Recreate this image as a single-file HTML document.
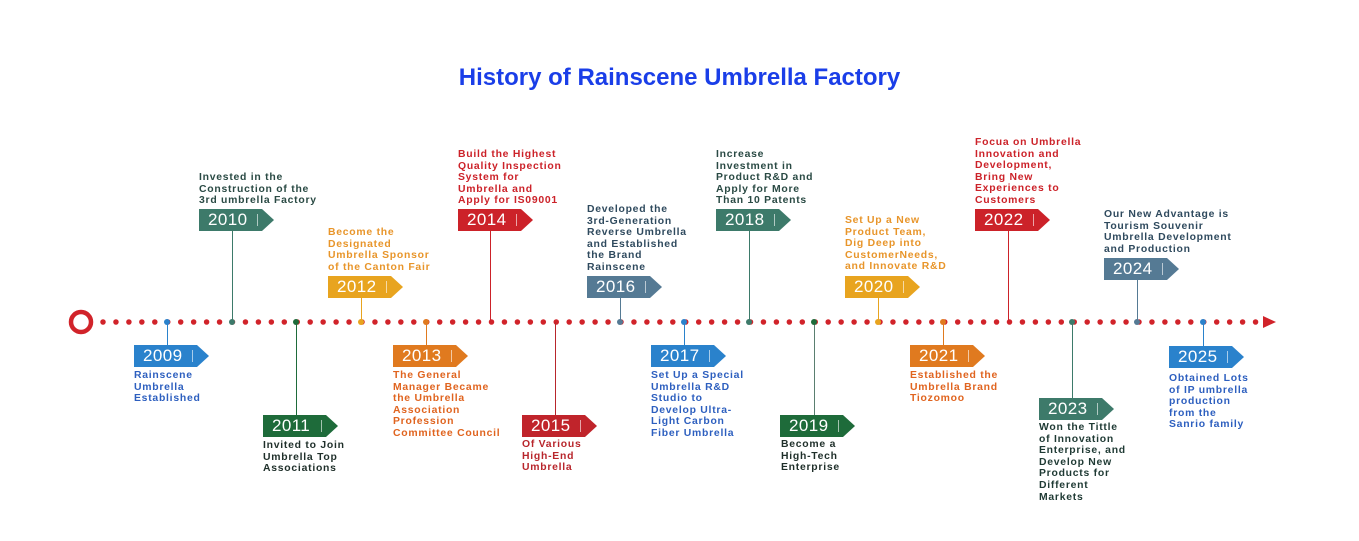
<!DOCTYPE html>
<html><head><meta charset="utf-8"><style>
*{margin:0;padding:0;box-sizing:border-box}
body{width:1359px;height:541px;background:#fff;position:relative;overflow:hidden;font-family:"Liberation Sans",sans-serif}
.title{position:absolute;left:0;width:1359px;top:64px;text-align:center;font-size:24px;font-weight:bold;color:#1a3ee8}
.tag{position:absolute;width:75px;height:22px;clip-path:polygon(0 0,63px 0,75px 50%,63px 100%,0 100%);color:#fff;font-size:17px;line-height:22px;padding-left:9px;letter-spacing:.4px}
.tag:after{content:"";position:absolute;left:58px;top:5px;width:1px;height:12px;background:rgba(255,255,255,.6)}
.t{position:absolute;font-size:10.4px;font-weight:bold;line-height:11.6px;white-space:nowrap;letter-spacing:.75px}
.v{position:absolute;width:1.3px}
.d{position:absolute;width:6px;height:6px;border-radius:50%;top:319px}
</style></head><body>
<div class="title">History of Rainscene Umbrella Factory</div>
<svg style="position:absolute;left:0;top:0" width="1359" height="541">
<circle cx="81" cy="322" r="10" fill="none" stroke="#d1232a" stroke-width="4.5"/>
<line x1="103" y1="322" x2="1262" y2="322" stroke="#d1232a" stroke-width="5.5" stroke-linecap="round" stroke-dasharray="0 12.95"/>
<polygon points="1263,316 1276,322 1263,328" fill="#d1232a"/>
</svg>
<div class="v" style="left:167px;top:322px;height:24px;background:#2a82cc"></div><div class="d" style="left:164px;background:#2a82cc"></div>
<div class="v" style="left:232px;top:230px;height:92px;background:#3d7a6a"></div><div class="d" style="left:229px;background:#3d7a6a"></div>
<div class="v" style="left:296px;top:322px;height:94px;background:#1e6b3a"></div><div class="d" style="left:293px;background:#1e6b3a"></div>
<div class="v" style="left:361px;top:297px;height:25px;background:#e8a41f"></div><div class="d" style="left:358px;background:#e8a41f"></div>
<div class="v" style="left:426px;top:322px;height:24px;background:#e07a1f"></div><div class="d" style="left:423px;background:#e07a1f"></div>
<div class="v" style="left:490px;top:230px;height:92px;background:#cc2229"></div>
<div class="v" style="left:555px;top:322px;height:94px;background:#b8262c"></div>
<div class="v" style="left:620px;top:297px;height:25px;background:#557a94"></div><div class="d" style="left:617px;background:#557a94"></div>
<div class="v" style="left:684px;top:322px;height:24px;background:#2a82cc"></div><div class="d" style="left:681px;background:#2a82cc"></div>
<div class="v" style="left:749px;top:230px;height:92px;background:#3d7a6a"></div><div class="d" style="left:746px;background:#3d7a6a"></div>
<div class="v" style="left:814px;top:322px;height:94px;background:#5a7f70"></div><div class="d" style="left:811px;background:#1e6b3a"></div>
<div class="v" style="left:878px;top:297px;height:25px;background:#e8a41f"></div><div class="d" style="left:875px;background:#e8a41f"></div>
<div class="v" style="left:943px;top:322px;height:24px;background:#e07a1f"></div><div class="d" style="left:940px;background:#e07a1f"></div>
<div class="v" style="left:1008px;top:230px;height:92px;background:#cc2229"></div>
<div class="v" style="left:1072px;top:322px;height:77px;background:#3d7a6a"></div><div class="d" style="left:1069px;background:#3d7a6a"></div>
<div class="v" style="left:1137px;top:279px;height:43px;background:#557a94"></div><div class="d" style="left:1134px;background:#557a94"></div>
<div class="v" style="left:1203px;top:322px;height:25px;background:#2a82cc"></div><div class="d" style="left:1200px;background:#2a82cc"></div>
<div class="tag" style="left:134px;top:345px;background:#2a82cc">2009</div>
<div class="tag" style="left:199px;top:209px;background:#3d7a6a">2010</div>
<div class="tag" style="left:263px;top:415px;background:#1e6b3a">2011</div>
<div class="tag" style="left:328px;top:276px;background:#e8a41f">2012</div>
<div class="tag" style="left:393px;top:345px;background:#e07a1f">2013</div>
<div class="tag" style="left:458px;top:209px;background:#cc2229">2014</div>
<div class="tag" style="left:522px;top:415px;background:#c0242b">2015</div>
<div class="tag" style="left:587px;top:276px;background:#557a94">2016</div>
<div class="tag" style="left:651px;top:345px;background:#2a82cc">2017</div>
<div class="tag" style="left:716px;top:209px;background:#3d7a6a">2018</div>
<div class="tag" style="left:780px;top:415px;background:#1e6b3a">2019</div>
<div class="tag" style="left:845px;top:276px;background:#e8a41f">2020</div>
<div class="tag" style="left:910px;top:345px;background:#e07a1f">2021</div>
<div class="tag" style="left:975px;top:209px;background:#cc2229">2022</div>
<div class="tag" style="left:1039px;top:398px;background:#3d7a6a">2023</div>
<div class="tag" style="left:1104px;top:258px;background:#557a94">2024</div>
<div class="tag" style="left:1169px;top:346px;background:#2a82cc">2025</div>
<div class="t" style="left:134px;top:370px;color:#2d5fbf">Rainscene<br>Umbrella<br>Established</div>
<div class="t" style="left:199px;top:172px;color:#2a4a44">Invested in the<br>Construction of the<br>3rd umbrella Factory</div>
<div class="t" style="left:263px;top:440px;color:#1f2f2a">Invited to Join<br>Umbrella Top<br>Associations</div>
<div class="t" style="left:328px;top:227px;color:#e8952a">Become the<br>Designated<br>Umbrella Sponsor<br>of the Canton Fair</div>
<div class="t" style="left:393px;top:370px;color:#e0641f">The General<br>Manager Became<br>the Umbrella<br>Association<br>Profession<br>Committee Council</div>
<div class="t" style="left:458px;top:149px;color:#cc2229">Build the Highest<br>Quality Inspection<br>System for<br>Umbrella and<br>Apply for IS09001</div>
<div class="t" style="left:522px;top:439px;color:#b8262c">Of Various<br>High-End<br>Umbrella</div>
<div class="t" style="left:587px;top:204px;color:#2f4a5e">Developed the<br>3rd-Generation<br>Reverse Umbrella<br>and Established<br>the Brand<br>Rainscene</div>
<div class="t" style="left:651px;top:370px;color:#2d5fbf">Set Up a Special<br>Umbrella R&amp;D<br>Studio to<br>Develop Ultra-<br>Light Carbon<br>Fiber Umbrella</div>
<div class="t" style="left:716px;top:149px;color:#2a4a44">Increase<br>Investment in<br>Product R&amp;D and<br>Apply for More<br>Than 10 Patents</div>
<div class="t" style="left:781px;top:439px;color:#1f2f2a">Become a<br>High-Tech<br>Enterprise</div>
<div class="t" style="left:845px;top:215px;color:#e8952a">Set Up a New<br>Product Team,<br>Dig Deep into<br>CustomerNeeds,<br>and Innovate R&amp;D</div>
<div class="t" style="left:910px;top:370px;color:#e0641f">Established the<br>Umbrella Brand<br>Tiozomoo</div>
<div class="t" style="left:975px;top:137px;color:#cc2229">Focua on Umbrella<br>Innovation and<br>Development,<br>Bring New<br>Experiences to<br>Customers</div>
<div class="t" style="left:1039px;top:422px;color:#1f3a34">Won the Tittle<br>of Innovation<br>Enterprise, and<br>Develop New<br>Products for<br>Different<br>Markets</div>
<div class="t" style="left:1104px;top:209px;color:#2f4a5e">Our New Advantage is<br>Tourism Souvenir<br>Umbrella Development<br>and Production</div>
<div class="t" style="left:1169px;top:373px;color:#2d5fbf">Obtained Lots<br>of IP umbrella<br>production<br>from the<br>Sanrio family</div>
</body></html>
